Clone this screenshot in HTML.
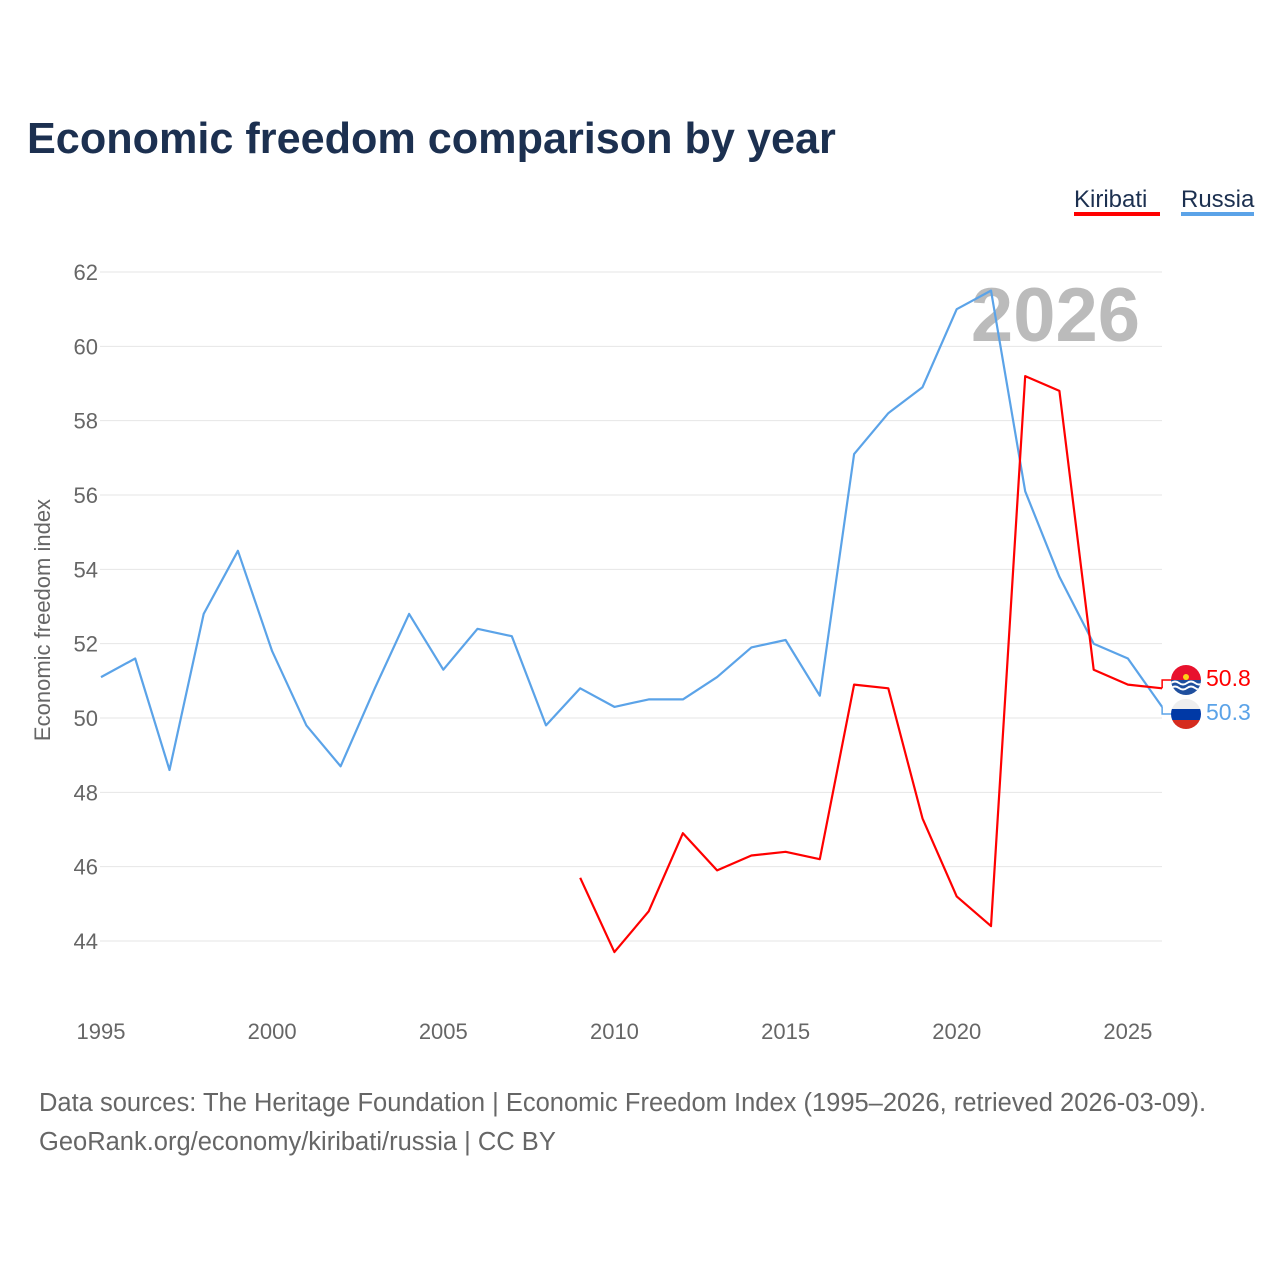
<!DOCTYPE html>
<html><head><meta charset="utf-8"><style>
body{margin:0;background:#fff;font-family:"Liberation Sans",sans-serif;}
</style></head><body>
<svg width="1280" height="1280" xmlns="http://www.w3.org/2000/svg">
<text x="27" y="153" font-size="43.2" font-weight="bold" fill="#1c3050">Economic freedom comparison by year</text>
<g>
<text x="1074" y="207" font-size="24" fill="#1c3050">Kiribati</text>
<rect x="1074" y="212" width="86" height="4" fill="#ff0000"/>
<text x="1181" y="207" font-size="24" fill="#1c3050">Russia</text>
<rect x="1181" y="212" width="73" height="4" fill="#5ba3e8"/>
</g>
<text x="1140" y="341" font-size="76" font-weight="bold" fill="#bbbbbb" text-anchor="end">2026</text>
<g id="grid"></g>
<g id="xt"></g>
<text transform="translate(50,620) rotate(-90)" font-size="22" fill="#666" text-anchor="middle">Economic freedom index</text>
<g id="lines"></g>
<g>
<clipPath id="c2"><circle cx="1186" cy="714" r="15"/></clipPath>
<g clip-path="url(#c2)"><rect x="1170" y="698" width="32" height="11" fill="#eee"/><rect x="1170" y="709" width="32" height="11" fill="#0039a6"/><rect x="1170" y="720" width="32" height="11" fill="#d52b1e"/></g></g>
<g>
<clipPath id="c1"><circle cx="1186" cy="680" r="15"/></clipPath>
<g clip-path="url(#c1)"><rect x="1170" y="664" width="32" height="16" fill="#e8112d"/><rect x="1170" y="680" width="32" height="16" fill="#1f4f9e"/>
<path d="M1171 683 q4 -3 8 0 t8 0 t8 0 t8 0 M1171 688 q4 -3 8 0 t8 0 t8 0 t8 0" stroke="#fff" stroke-width="2" fill="none"/>
<circle cx="1186" cy="677" r="3" fill="#fcd116"/></g></g>
<text x="1206" y="686" font-size="23" fill="#ff0000">50.8</text>
<text x="1206" y="720" font-size="23" fill="#5ba3e8">50.3</text>
<text x="39" y="1111" font-size="25.5" fill="#666">Data sources: The Heritage Foundation | Economic Freedom Index (1995–2026, retrieved 2026-03-09).</text>
<text x="39" y="1150" font-size="25.5" fill="#666">GeoRank.org/economy/kiribati/russia | CC BY</text>
</svg>
<script>
const yTicks=[44,46,48,50,52,54,56,58,60,62];
const xTicks=[1995,2000,2005,2010,2015,2020,2025];
const russiaYears=[1995,1996,1997,1998,1999,2000,2001,2002,2003,2004,2005,2006,2007,2008,2009,2010,2011,2012,2013,2014,2015,2016,2017,2018,2019,2020,2021,2022,2023,2024,2025,2026];
const russiaVals=[51.1,51.6,48.6,52.8,54.5,51.8,49.8,48.7,50.8,52.8,51.3,52.4,52.2,49.8,50.8,50.3,50.5,50.5,51.1,51.9,52.1,50.6,57.1,58.2,58.9,61.0,61.5,56.1,53.8,52.0,51.6,50.3];
const kiribatiYears=[2009,2010,2011,2012,2013,2014,2015,2016,2017,2018,2019,2020,2021,2022,2023,2024,2025,2026];
const kiribatiVals=[45.7,43.7,44.8,46.9,45.9,46.3,46.4,46.2,50.9,50.8,47.3,45.2,44.4,59.2,58.8,51.3,50.9,50.8];
const NS='http://www.w3.org/2000/svg';
const X=y=>101+(y-1995)*34.23;
const Y=v=>941-(v-44)*(669/18);
function mk(t,a,p){const e=document.createElementNS(NS,t);for(const k in a)e.setAttribute(k,a[k]);document.getElementById(p).appendChild(e);return e;}
yTicks.forEach(v=>{
 const l=mk('line',{x1:100,x2:1162,y1:Y(v),y2:Y(v),stroke:'#e6e6e6','stroke-width':1},'grid');
 
 
 const t=mk('text',{x:98,y:Y(v)+8,'font-size':22,fill:'#666','text-anchor':'end'},'grid');
 t.textContent=v;
 
 
});
xTicks.forEach(v=>{
 const t=mk('text',{x:X(v),y:1039,'font-size':22,fill:'#666','text-anchor':'middle'},'xt');
 t.textContent=v;
 
 
});
function line(ys,vs,c,name,ly){
 const pts=ys.map((y,i)=>X(y).toFixed(1)+','+Y(vs[i]).toFixed(1));
 const p=mk('polyline',{points:pts.join(' '),fill:'none',stroke:c,'stroke-width':2.2,'stroke-linejoin':'round'},'lines');
 
 
 const ex=X(ys[ys.length-1]),ey=Y(vs[vs.length-1]);
 const c2=mk('polyline',{points:`${ex},${ey} ${ex},${ly} ${ex+10},${ly}`,fill:'none',stroke:c,'stroke-width':1.5},'lines');
 
 
}
line(russiaYears,russiaVals,'#5ba3e8','russia-line',714);
line(kiribatiYears,kiribatiVals,'#ff0000','kiribati-line',680);
</script>
</body></html>
